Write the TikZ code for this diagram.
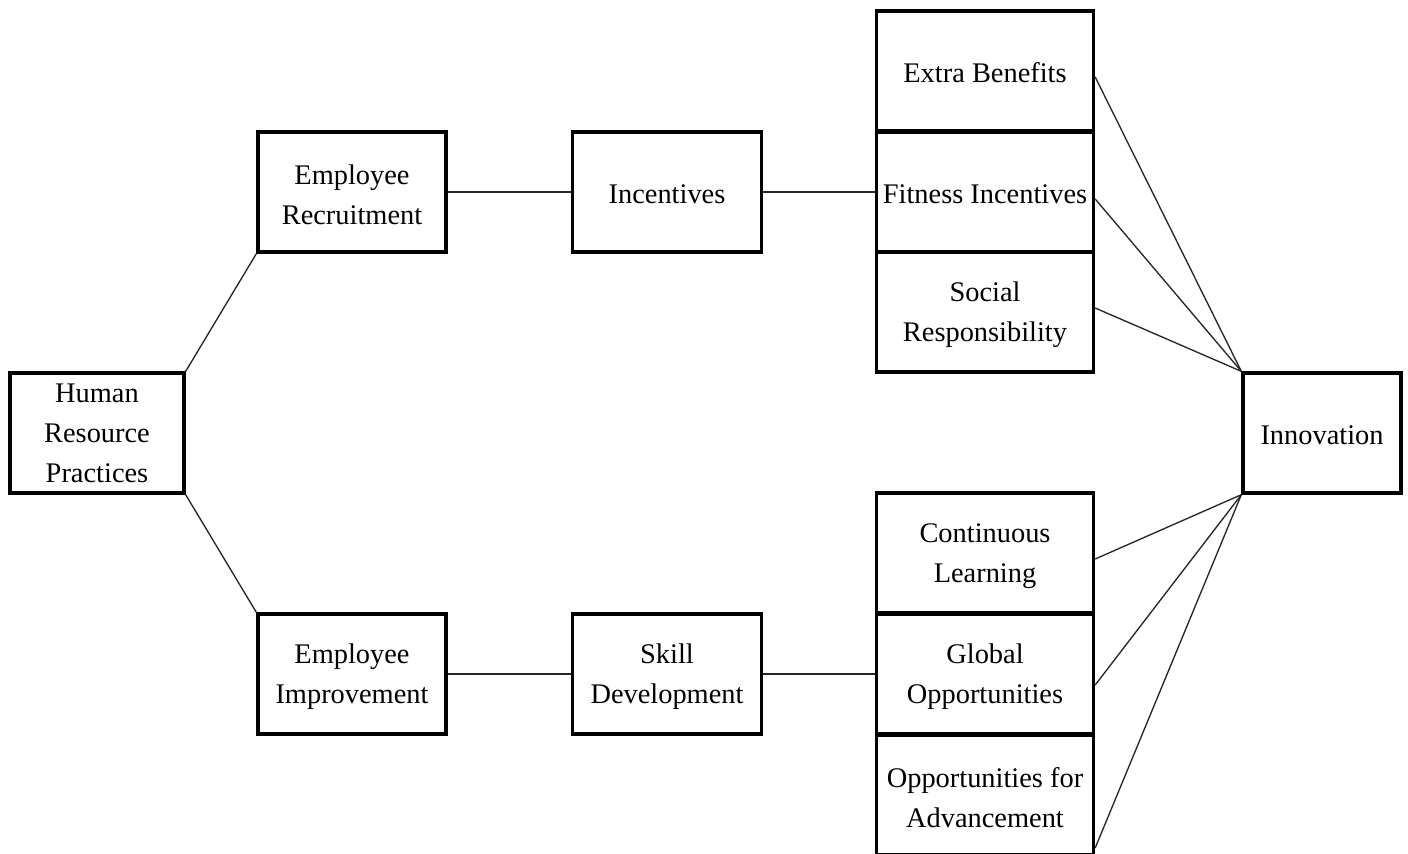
\documentclass[tikz,border=0pt]{standalone}
\usepackage{fontspec}
\setmainfont{Liberation Serif}
\usetikzlibrary{calc}
\begin{document}
\begin{tikzpicture}[x=0.75pt,y=-0.75pt,
  boxnode/.style={draw, line width=2.5pt, inner sep=0pt, minimum height=90pt},
  txt/.style={inner sep=0pt, align=center, font=\fontsize{21.3}{30}\selectfont},
  conn/.style={line width=1pt, draw=black!85}]
\useasboundingbox (0,0) rectangle (1408,853);
\clip (0,0) rectangle (1408,853);
\fill[white] (0,0) rectangle (1408,853);
\node[boxnode, minimum width=130.5pt] (hrp) at (97,433) {};
\node[boxnode, minimum width=141pt] (er) at (352,192) {};
\node[boxnode, minimum width=141pt] (ei) at (352,674) {};
\node[boxnode, minimum width=141.75pt] (inc) at (667,192) {};
\node[boxnode, minimum width=141.75pt] (sd) at (667,674) {};
\node[boxnode, minimum width=162.75pt] (eb) at (985,71) {};
\node[boxnode, minimum width=162.75pt] (fi) at (985,192) {};
\node[boxnode, minimum width=162.75pt] (sr) at (985,312) {};
\node[boxnode, minimum width=162.75pt] (cl) at (985,553) {};
\node[boxnode, minimum width=162.75pt] (go) at (985,674) {};
\node[boxnode, minimum width=162.75pt] (oa) at (985,795) {};
\node[boxnode, minimum width=118.5pt] (inn) at (1322,433) {};
\node[txt] (hrp-t) at ($(hrp)+(0,0)$) {Human\\Resource\\Practices};
\node[txt] (er-t) at ($(er)+(0,3)$) {Employee\\Recruitment};
\node[txt] (ei-t) at ($(ei)+(0,3)$) {Employee\\Improvement};
\node[txt] (inc-t) at ($(inc)+(0,2)$) {Incentives};
\node[txt] (sd-t) at ($(sd)+(0,3)$) {Skill\\Development};
\node[txt] (eb-t) at ($(eb)+(0,2)$) {Extra Benefits};
\node[txt] (fi-t) at ($(fi)+(0,2)$) {Fitness Incentives};
\node[txt] (sr-t) at ($(sr)+(0,3)$) {Social\\Responsibility};
\node[txt] (cl-t) at ($(cl)+(0,3)$) {Continuous\\Learning};
\node[txt] (go-t) at ($(go)+(0,3)$) {Global\\Opportunities};
\node[txt] (oa-t) at ($(oa)+(0,3)$) {Opportunities for\\Advancement};
\node[txt] (inn-t) at ($(inn)+(0,2)$) {Innovation};
\draw[conn] (hrp.north east) -- (er.south west);
\draw[conn] (hrp.south east) -- (ei.north west);
\draw[conn] (er.east) -- (inc.west);
\draw[conn] (inc.east) -- (fi.west);
\draw[conn] (ei.east) -- (sd.west);
\draw[conn] (sd.east) -- (go.west);
\draw[conn] ($(eb.east)+(0,6)$) -- (inn.north west);
\draw[conn] ($(fi.east)+(0,7)$) -- (inn.north west);
\draw[conn] ($(sr.east)+(0,-4)$) -- (inn.north west);
\draw[conn] ($(cl.east)+(0,6)$) -- (inn.south west);
\draw[conn] ($(go.east)+(0,11)$) -- (inn.south west);
\draw[conn] ($(oa.east)+(0,53)$) -- (inn.south west);
\end{tikzpicture}
\end{document}
